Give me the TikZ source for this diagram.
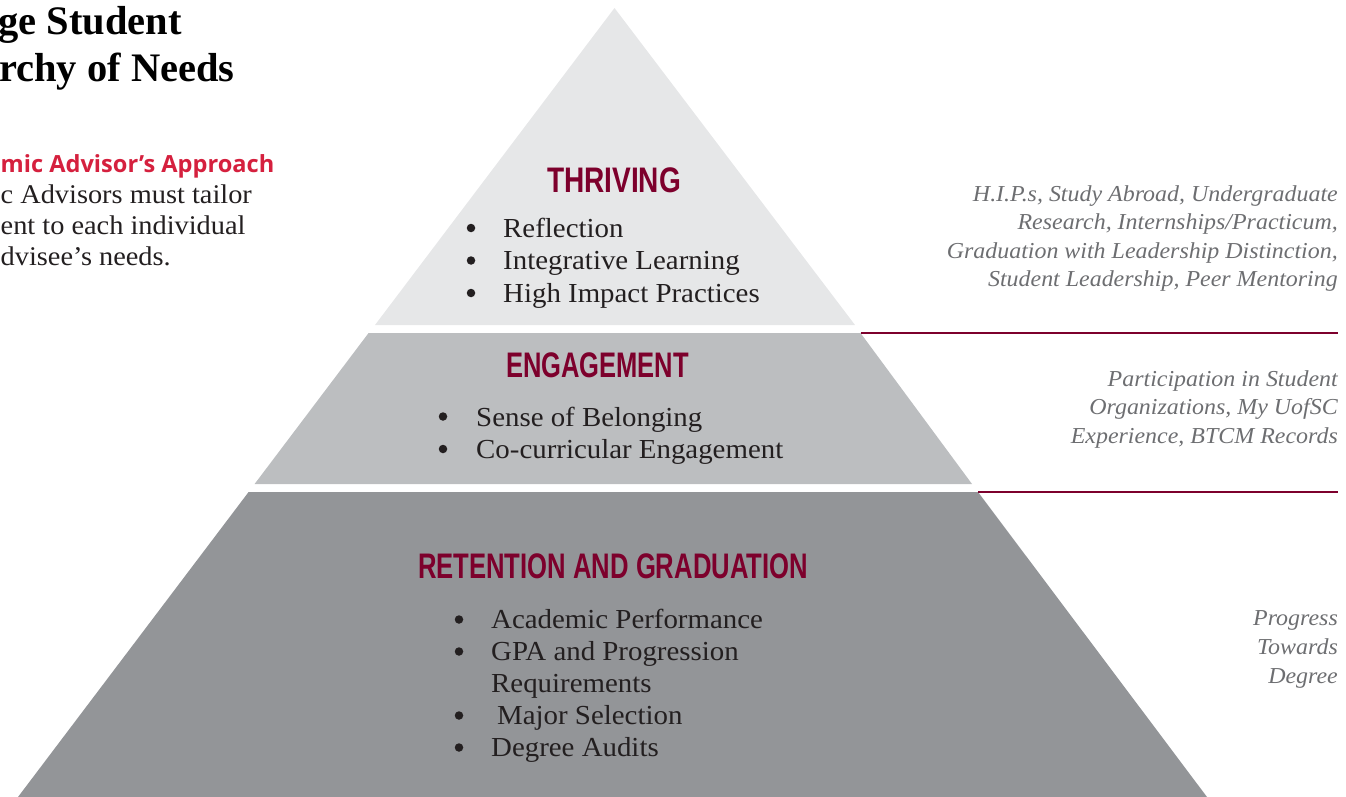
\documentclass[tikz,border=0pt]{standalone}
\usepackage{fontspec}
\newfontfamily\condfont{Liberation Sans Bold}
\newfontfamily\titlefont{Liberation Serif Bold}
\newfontfamily\headfont{Open Sans}
\newfontfamily\bodyfont{Liberation Serif}[FakeStretch=1.05]
\definecolor{maroon}{RGB}{125,0,44}
\definecolor{crimson}{RGB}{213,32,62}
\definecolor{tierA}{RGB}{230,231,232}
\definecolor{tierB}{RGB}{188,190,192}
\definecolor{tierC}{RGB}{147,149,152}
\definecolor{sidegray}{RGB}{109,110,113}
\definecolor{ink}{RGB}{35,31,32}
\newcommand\fitw[2]{\resizebox{#1}{\height}{#2}}
\tikzset{
  tiertitle/.style={anchor=base, inner sep=0pt, text=maroon, font=\condfont\fontsize{35.5}{35.5}\selectfont},
  item/.style={anchor=base west, inner sep=0pt, text=ink, font=\bodyfont\fontsize{27.5}{27.5}\selectfont},
  bulldot/.style={circle, fill=ink, inner sep=0pt, minimum size=8.5pt},
  side/.style={anchor=base east, inner sep=0pt, text=sidegray, font=\bodyfont\itshape\fontsize{22.8}{22.8}\selectfont},
  title/.style={anchor=base west, inner sep=0pt, text=black, font=\titlefont\fontsize{40.5}{40.5}\selectfont},
  body/.style={anchor=base west, inner sep=0pt, text=ink, font=\bodyfont\fontsize{27}{27}\selectfont},
  rule/.style={draw=maroon, line width=1.4pt}
}
\begin{document}
\begin{tikzpicture}[x=1pt,y=-1pt]
\useasboundingbox (0,0) rectangle (1346,797);
\clip (0,0) rectangle (1346,797);
% pyramid tiers
\fill[tierA] (614.5,8) -- (375,325) -- (855,325) -- cycle;
\coordinate (t2tl) at (368.6,333);
\coordinate (t2tr) at (860.5,333);
\fill[tierB] (t2tl) -- (t2tr) -- (972,484) -- (254.6,484) -- cycle;
\coordinate (t3tl) at (248.6,492);
\coordinate (t3tr) at (978,492);
\fill[tierC] (t3tl) -- (t3tr) -- (1207,797) -- (18,797) -- cycle;
% rules
\coordinate (r1end) at (1338,333);
\coordinate (r2end) at (1338,492);
\draw[rule] (t2tr) -- (r1end);
\draw[rule] (t3tr) -- (r2end);
% title
\node[title] (ti1) at (-2,35) {ge Student};
\node[title] (ti2) at (-1,82) {rchy of Needs};
\node[anchor=base west, inner sep=0pt, text=crimson, font=\headfont\bfseries\fontsize{23.6}{23.6}\selectfont] (head) at (0.5,172) {mic Advisor’s Approach};
\node[body] (bd1) at (0.5,203) {c Advisors must tailor};
\node[body] (bd2) at (0.5,234) {ent to each individual};
\node[body] (bd3) at (0.5,265) {dvisee’s needs.};
% thriving
\node[tiertitle] (thr) at (614,193) {\fitw{134pt}{THRIVING}};
\node[bulldot] (tb1) at (471,228) {};
\node[bulldot] (tb2) at (471,260.5) {};
\node[bulldot] (tb3) at (471,293) {};
\node[item] (ti1a) at (503,237) {Reflection};
\node[item] (ti2a) at (503,269) {Integrative Learning};
\node[item] (ti3a) at (503,302) {High Impact Practices};
% engagement
\node[tiertitle] (eng) at (597.5,377) {\fitw{183pt}{ENGAGEMENT}};
\node[bulldot] (eb1) at (443,416.5) {};
\node[bulldot] (eb2) at (443,449) {};
\node[item] (ei1) at (476,426) {Sense of Belonging};
\node[item] (ei2) at (476,458) {Co-curricular Engagement};
% retention
\node[tiertitle] (ret) at (613,578) {\fitw{390pt}{RETENTION AND GRADUATION}};
\node[bulldot] (rb1) at (459,619.5) {};
\node[bulldot] (rb2) at (459,651.5) {};
\node[bulldot] (rb3) at (459,715.5) {};
\node[bulldot] (rb4) at (459,747.5) {};
\node[item] (ri1) at (491,628) {Academic Performance};
\node[item] (ri2) at (491,660) {GPA and Progression};
\node[item] (ri2b) at (491,692) {Requirements};
\node[item] (ri3) at (497,724) {Major Selection};
\node[item] (ri4) at (491,756) {Degree Audits};
% side notes
\node[side] (s1a) at (1338,201) {H.I.P.s, Study Abroad, Undergraduate};
\node[side] (s1b) at (1338,229) {Research, Internships/Practicum,};
\node[side] (s1c) at (1338,258) {Graduation with Leadership Distinction,};
\node[side] (s1d) at (1338,286) {Student Leadership, Peer Mentoring};
\node[side] (s2a) at (1338,386) {Participation in Student};
\node[side] (s2b) at (1338,414) {Organizations, My UofSC};
\node[side] (s2c) at (1338,443) {Experience, BTCM Records};
\node[side] (s3a) at (1338,625) {Progress};
\node[side] (s3b) at (1338,654) {Towards};
\node[side] (s3c) at (1338,683) {Degree};
\end{tikzpicture}
\end{document}
